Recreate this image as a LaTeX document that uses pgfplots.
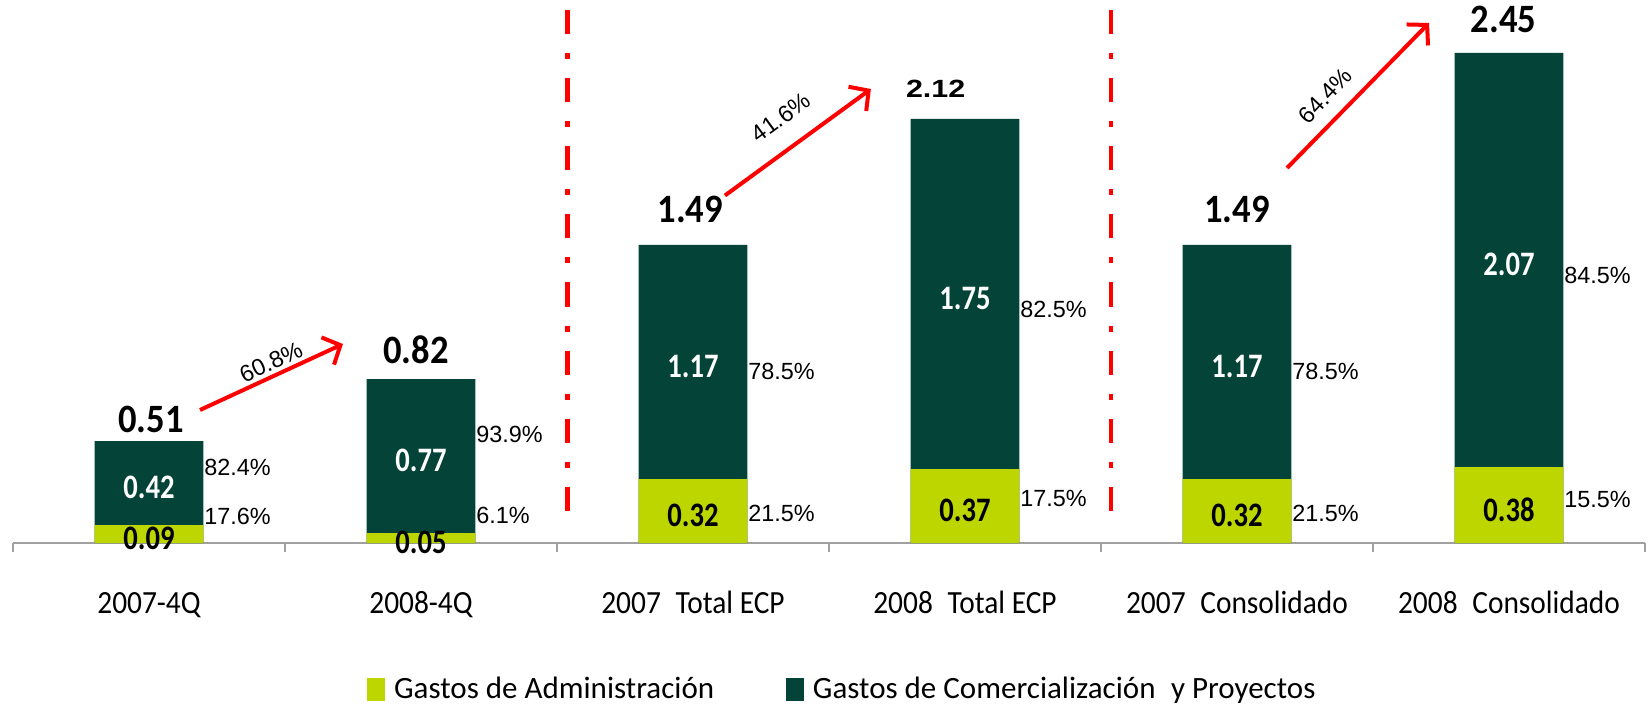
\documentclass[border=0pt]{standalone}
\usepackage{fontspec}
\setmainfont{Carlito}
\newfontfamily\arial{Liberation Sans}
\usepackage{graphicx}
\usepackage{pgfplots}
\usepackage{pgfplotstable}
\pgfplotsset{compat=1.18}
\usetikzlibrary{arrows.meta}
\definecolor{lg}{RGB}{190,214,0}
\definecolor{dg}{RGB}{3,67,56}
\definecolor{axg}{RGB}{160,160,160}
\newcommand\TL[1]{\scalebox{1}[1.1]{\fontsize{14.7}{16}\selectfont #1}}
\newcommand\TOT[1]{\scalebox{1}[1.1]{\fontsize{18.3}{20}\selectfont\bfseries #1}}
\newcommand\TOTA[1]{\scalebox{1}[0.82]{\arial\fontsize{15.2}{16}\selectfont\bfseries #1}}
\newcommand\INS[1]{\scalebox{1}[1.2]{\fontsize{14.3}{16}\selectfont\bfseries #1}}
\newcommand\PCT{\arial\fontsize{11.7}{13}\selectfont}

\pgfplotstableread{
x adm com tot
0 0.09 0.42 0.51
1 0.05 0.77 0.82
2 0.32 1.17 1.49
3 0.37 1.75 2.12
4 0.32 1.17 1.49
5 0.38 2.07 2.45
}\costs

% positions of the total labels (Carlito ones)
\pgfplotstableread{
lx ly t
0.007 0.555 0.51
0.982 0.900 0.82
1.990 1.600 1.49
4.000 1.600 1.49
4.980 2.550 2.45
}\totlab
% the 2.12 label is set in Arial bold
\pgfplotstableread{
lx ly t
2.892 2.225 2.12
}\totlabA

\pgfplotstableread{
x y p
0 0.3775 82.4
0 0.135 17.6
1 0.545 93.9
1 0.14 6.1
2 0.86 78.5
2 0.15 21.5
3 1.17 82.5
3 0.225 17.5
4 0.86 78.5
4 0.15 21.5
5 1.34 84.5
5 0.22 15.5
}\pcts

\begin{document}
\begin{tikzpicture}
\begin{axis}[
  scale only axis,
  width=816pt, height=271.5pt,
  xmin=-0.5, xmax=5.5, ymin=0, ymax=2.715,
  clip=false,
  axis x line*=bottom,
  axis y line=none,
  axis line style={draw=axg, line width=0.8pt},
  xtick={0,...,5},
  major tick length=0pt,
  minor xtick={-0.5,0.5,...,5.5},
  minor tick length=4.5pt,
  tick align=outside,
  minor tick style={draw=axg, line width=0.8pt},
  xticklabels={\TL{2007-4Q},\TL{2008-4Q},\TL{2007\hspace{0.5em}Total ECP},\TL{2008\hspace{0.5em}Total ECP},\TL{2007\hspace{0.5em}Consolidado},\TL{2008\hspace{0.5em}Consolidado}},
  xticklabel style={anchor=base, yshift=-35pt, inner sep=0pt},
  legend columns=2,
  legend style={draw=none, fill=none, at={(0.2169,-0.2694)}, anchor=west,
    inner sep=0pt, font=\fontsize{15.5}{17}\selectfont,
    nodes={inner sep=0pt},
    /tikz/every odd column/.append style={column sep=4.5pt},
    /tikz/every even column/.append style={column sep=36pt}},
  legend cell align=left,
]
% dark (total height) then light (admin) on top of it
\addplot[ybar, bar width=0.4, bar shift=0pt, fill=dg, draw=none, forget plot] table[x=x, y=tot] {\costs};
\addplot[ybar, bar width=0.4, bar shift=0pt, fill=lg, draw=none, forget plot] table[x=x, y=adm] {\costs};

% totals
\addplot[draw=none, mark=none, forget plot, point meta=explicit symbolic,
  nodes near coords={\TOT{\pgfplotspointmeta}},
  every node near coord/.style={anchor=base, inner sep=0pt, text=black}]
  table[x=lx, y=ly, meta=t] {\totlab};
\addplot[draw=none, mark=none, forget plot, point meta=explicit symbolic,
  nodes near coords={\TOTA{\pgfplotspointmeta}},
  every node near coord/.style={anchor=base, inner sep=0pt, text=black}]
  table[x=lx, y=ly, meta=t] {\totlabA};
% commercial values
\addplot[draw=none, mark=none, forget plot, point meta=explicit symbolic,
  nodes near coords={\INS{\pgfplotspointmeta}},
  every node near coord/.style={anchor=center, yshift=-2.2pt, inner sep=0pt, text=white}]
  table[x=x, y expr=\thisrow{adm}+0.5*\thisrow{com}, meta=com] {\costs};
% admin values
\addplot[draw=none, mark=none, forget plot, point meta=explicit symbolic,
  nodes near coords={\INS{\pgfplotspointmeta}},
  every node near coord/.style={anchor=center, yshift=-2.2pt, inner sep=0pt, text=black}]
  table[x=x, y expr=0.5*\thisrow{adm}, meta=adm] {\costs};
% percentages
\addplot[draw=none, mark=none, forget plot, point meta=explicit symbolic,
  nodes near coords={\PCT\pgfplotspointmeta\%},
  every node near coord/.style={anchor=west, inner sep=0.3pt, text=black}]
  table[x expr=\thisrow{x}+0.2, y=y, meta=p] {\pcts};

% separators
\draw[red, line width=2.25pt, dash pattern=on 12pt off 9.5pt on 3pt off 9.5pt]
  (axis cs:1.5386,2.6625) -- (axis cs:1.5386,0.0875);
\draw[red, line width=2.25pt, dash pattern=on 12pt off 9.5pt on 3pt off 9.5pt]
  (axis cs:3.537,2.6625) -- (axis cs:3.537,0.0875);

% growth arrows
\draw[red, line width=2pt, -{Straight Barb[length=7pt,width=15pt]}]
  (axis cs:0.1875,0.665) -- (axis cs:0.713,0.995);
\node[rotate=25, font=\PCT, inner sep=0pt] at (axis cs:0.4485,0.905) {60.8\%};
\draw[red, line width=2pt, -{Straight Barb[length=7pt,width=15pt]}]
  (axis cs:2.1176,1.7375) -- (axis cs:2.654,2.27);
\node[rotate=36, font=\PCT, inner sep=0pt] at (axis cs:2.3235,2.127) {41.6\%};
\draw[red, line width=2pt, -{Straight Barb[length=7pt,width=15pt]}]
  (axis cs:4.184,1.875) -- (axis cs:4.706,2.6);
\node[rotate=47, font=\PCT, inner sep=0pt] at (axis cs:4.3235,2.237) {64.4\%};

% legend
\addlegendimage{legend image code/.code={\fill[lg] (0pt,-5.5pt) rectangle (8.5pt,5.5pt);}}
\addlegendentry{Gastos de Administración}
\addlegendimage{legend image code/.code={\fill[dg] (0pt,-5.5pt) rectangle (8.5pt,5.5pt);}}
\addlegendentry{Gastos de Comercialización\hspace{0.5em}y Proyectos}
\end{axis}
\pgfresetboundingbox
\useasboundingbox (-6.5pt,-82pt) rectangle (817.5pt,271.5pt);
\end{tikzpicture}
\end{document}
